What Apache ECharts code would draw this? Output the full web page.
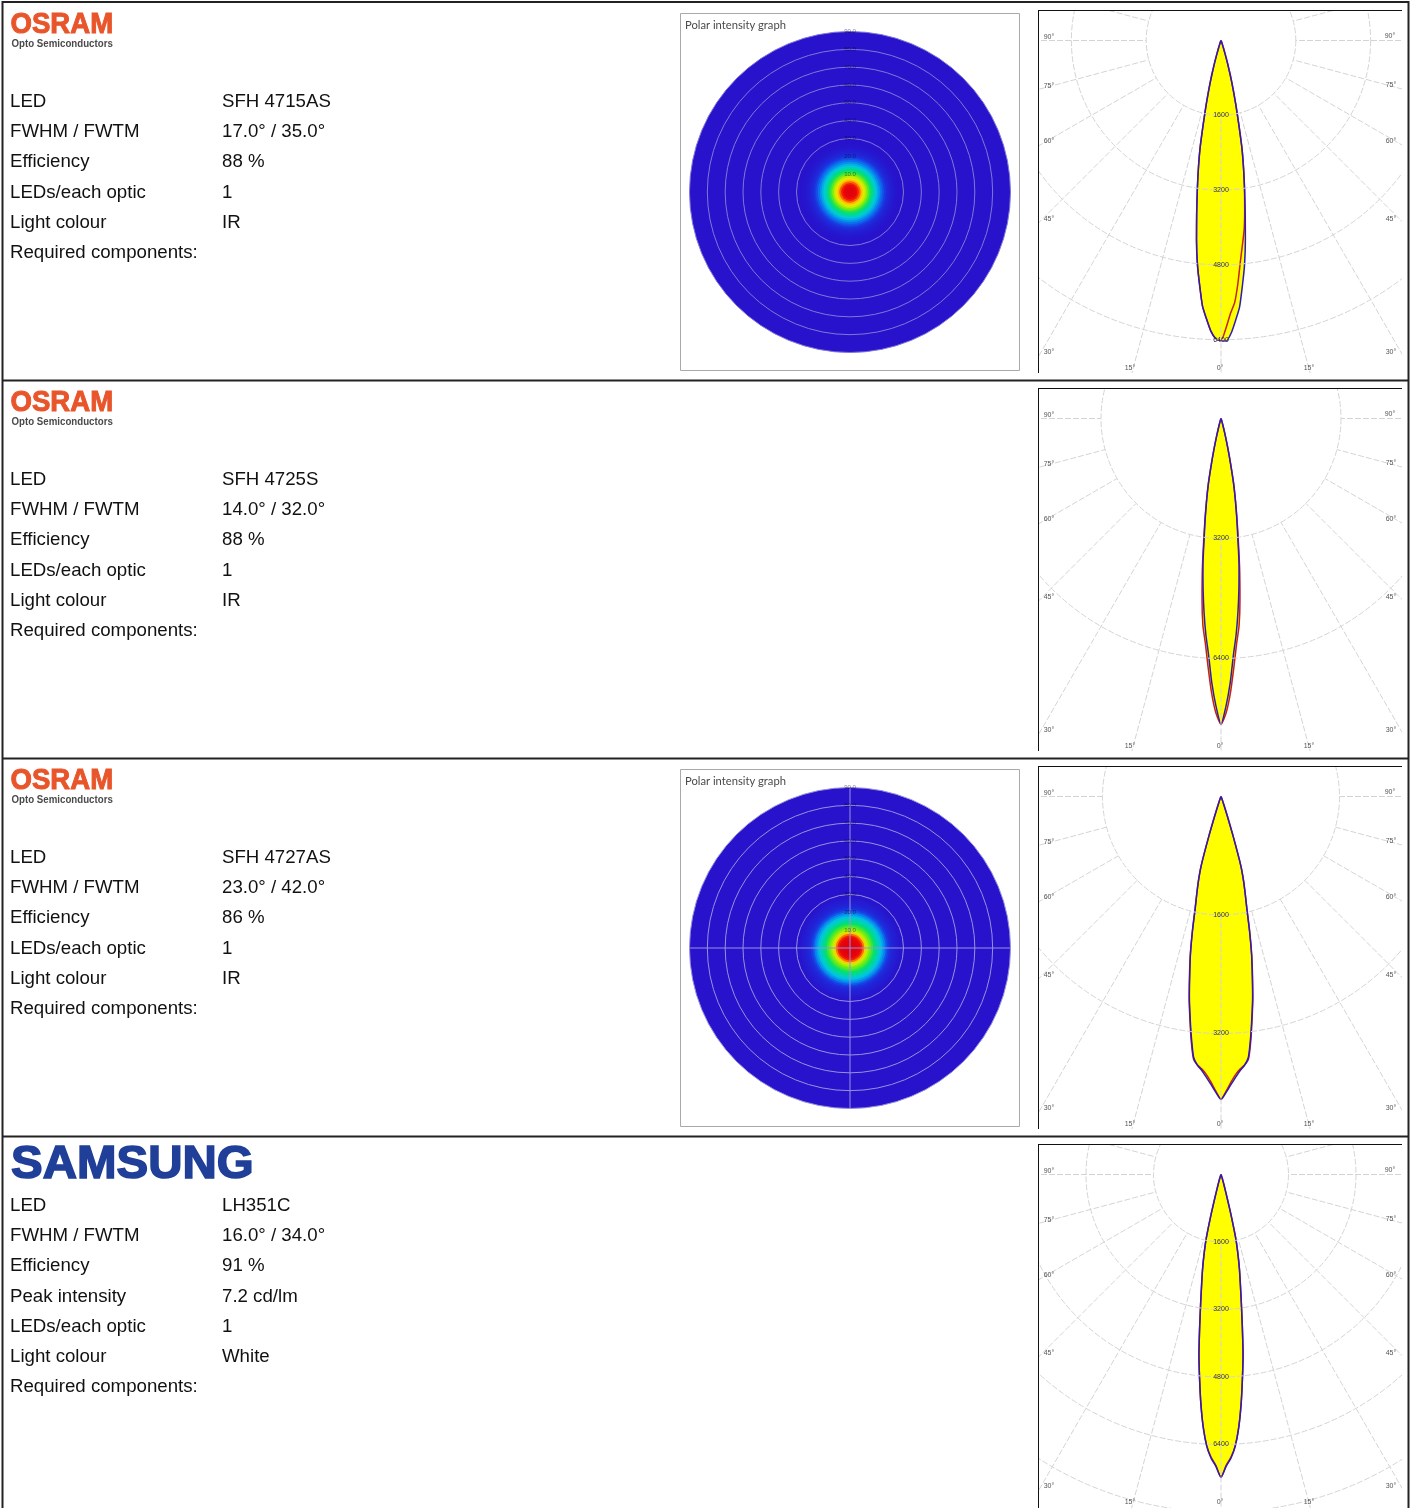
<!DOCTYPE html>
<html>
<head>
<meta charset="utf-8">
<script src="https://cdn.jsdelivr.net/npm/echarts@6/dist/echarts.min.js"></script>
<style>
html,body{margin:0;padding:0;background:#fff;overflow:hidden}
#base{position:absolute;left:0;top:0;width:1413px;height:1508px}
.lobe{position:absolute;left:1039px;width:363px;filter:blur(0.5px)}
</style>
</head>
<body>
<div id="base"></div>
<div id="lobe0" class="lobe" style="top:11px;height:362px"></div>
<div id="lobe1" class="lobe" style="top:389px;height:362px"></div>
<div id="lobe2" class="lobe" style="top:767px;height:362px"></div>
<div id="lobe3" class="lobe" style="top:1145px;height:363px"></div>
<script>
// ---------- table content ----------
var rowLabels1 = ['LED','FWHM / FWTM','Efficiency','LEDs/each optic','Light colour','Required components:'];
var rowLabels4 = ['LED','FWHM / FWTM','Efficiency','Peak intensity','LEDs/each optic','Light colour','Required components:'];
var rowValues1 = ['SFH 4715AS','17.0° / 35.0°','88 %','1','IR',''];
var rowValues2 = ['SFH 4725S','14.0° / 32.0°','88 %','1','IR',''];
var rowValues3 = ['SFH 4727AS','23.0° / 42.0°','86 %','1','IR',''];
var rowValues4 = ['LH351C','16.0° / 34.0°','91 %','7.2 cd/lm','1','White',''];

// ---------- lobe data: candela per klm against half angle (degrees) ----------
var lobeAngles = [0,1,2,3,4,5,6,7,8,9,10,11,12,13,14,15,16,17,18,19,20,21,23,26,30,40,90];
var lobe1Blue  = [6480,6430,6260,5990,5710,5260,4820,4280,3720,3230,2780,2350,1820,1410,1070,770,510,300,170,105,65,40,20,0,0,0,0];
var lobe1RedR  = [6300,6150,5840,5610,5200,4750,4390,4070,3640,3210,2780,2350,1820,1410,1070,770,510,300,170,105,65,40,20,0,0,0,0];
var lobe1RedL  = [6420,6380,6220,5960,5690,5250,4820,4300,3740,3240,2790,2350,1820,1410,1070,770,510,300,170,105,65,40,20,0,0,0,0];
var lobe2Blue  = [8150,7670,7050,6320,5780,5190,4570,3950,3230,2690,2200,1750,1210,810,485,270,160,110,70,40,25,0,0,0,0,0,0];
var lobe2Red   = [8150,7850,7300,6620,6000,5540,4840,4090,3340,2740,2230,1750,1210,810,485,270,160,110,70,40,25,0,0,0,0,0,0];
var lobe3Blue  = [4090,3995,3890,3795,3710,3645,3540,3280,3000,2730,2430,2160,1850,1550,1350,1175,970,570,270,135,70,40,15,0,0,0,0];
var lobe3Red   = [4090,3980,3860,3760,3690,3640,3560,3310,3020,2750,2450,2170,1860,1550,1350,1175,970,570,270,135,70,40,15,0,0,0,0];
var lobe4Blue  = [7180,6920,6730,6450,6020,5470,4860,4290,3630,3080,2650,2300,1940,1565,950,470,260,165,95,60,35,25,0,0,0,0,0];
var lobe4Red   = [7180,6900,6710,6440,6010,5460,4860,4290,3630,3080,2640,2290,1930,1555,950,470,260,165,95,60,35,25,0,0,0,0,0];
var lobe1Rings = [1600,3200,4800,6400];
var lobe2Rings = [3200,6400];
var lobe3Rings = [1600,3200];
var lobe4Rings = [1600,3200,4800,6400,8000];
var angleTickText = ['90°','75°','60°','45°','30°','15°','0°','15°','30°','45°','60°','75°','90°'];

// ---------- polar intensity graphs: relative intensity against off-axis angle ----------
var discRadii = [0,1,2,3,4,5,6,7,8,9,10,11,12,13,14,15,16,17,18,19,20,21,22,23,24,25,26,27,28,29,30,31,32,90];
var disc1Intensity = [100,100,98,95,90,84,76,68,62,57,52,47,42,38,34,31,27,23,19,15,11,8,6,4,3,2,1,0.5,0,0,0,0,0,0];
var disc3Intensity = [100,100,100,99,97,94,90,84,75,65,57,53,49,45,41,38,35,32,29,25,21,15,11,8,6,4.5,3.5,2.5,1.5,1,0.5,0,0,0];
var discRings = [30,40,50,60,70,80,90];
var discLabels = [10,20,30,40,50,60,70,80,90];
var discColors = ['#2812cc','#1a34e0','#0a78f0','#00c8e0','#00e070','#70ec10','#e8f000','#ffb000','#f83000','#e80808','#e00010'];

// ---------- base page: table, logos, text, disc charts ----------
var base = echarts.init(document.getElementById('base'));
var g = [];
var TXT = '#111';
function text(x, y, s, font, fill, extra, strokeW) {
  var e = {type:'text', x:x, y:y, z:20, silent:true,
    style:{text:s, font:font, fill:fill, verticalAlign:'middle', align:'left'}};
  if (strokeW) { e.style.stroke = fill; e.style.lineWidth = strokeW; }
  for (var k in (extra||{})) e[k] = extra[k];
  g.push(e);
}
function line(x1,y1,x2,y2,c,w) {
  g.push({type:'line', z:19, silent:true, shape:{x1:x1,y1:y1,x2:x2,y2:y2}, style:{stroke:c,lineWidth:w}});
}
var rowTops = [0,378,756,1134];
rowTops.forEach(function(t, i) {
  var panelBottom = i === 3 ? 1508 : t + 373;
  line(1038.5, t + 10, 1038.5, panelBottom, '#111', 1);
  line(1038, t + 10.5, 1402, t + 10.5, '#111', 1);
});
// table rules
line(2,2,1409,2,'#222',2);
line(2.5,1,2.5,1508,'#222',2);
line(1408.5,1,1408.5,1508,'#222',2);
[380.5,758.5,1136.5].forEach(function(y){ line(2,y,1409,y,'#222',2); });

var F = '18.67px "Liberation Sans", Arial, sans-serif';
var rowY = [101.5,131.5,161.5,192.5,222.5,252.5];
[rowValues1,rowValues2,rowValues3].forEach(function(vals, i) {
  var t = rowTops[i];
  text(10.5, t + 25, 'OSRAM', 'bold 29.5px "Liberation Sans", Arial, sans-serif', '#e9552b', {scaleX:0.935}, 1);
  text(11.5, t + 44, 'Opto Semiconductors', 'bold 10px "Liberation Sans", Arial, sans-serif', '#4a4a4a', {scaleX:0.97});
  rowLabels1.forEach(function(s, j) { text(10, t + rowY[j], s, F, TXT); });
  vals.forEach(function(s, j) { if (s) text(222, t + rowY[j], s, F, TXT); });
});
text(11, 1165.5, 'SAMSUNG', 'bold 47px "Liberation Sans", Arial, sans-serif', '#1f3f98', {scaleX:1.01}, 1.6);
var rowY4 = [1205.5,1235.5,1265.5,1296.5,1326.5,1356.5,1386.5];
rowLabels4.forEach(function(s, j) { text(10, rowY4[j], s, F, TXT); });
rowValues4.forEach(function(s, j) { if (s) text(222, rowY4[j], s, F, TXT); });

// disc frames and titles
[13,769].forEach(function(y) {
  g.push({type:'rect', z:1, silent:true, shape:{x:680.5,y:y+0.5,width:339,height:357},
    style:{fill:'#fff',stroke:'#a9a9a9',lineWidth:1}});
  text(685, y + 12, 'Polar intensity graph', '11.2px Lato, sans-serif', '#4a4a4a');
});

function discRenderItem(params, api) {
  var c = params.coordSys;
  var p = api.coord([api.value(0), 0]);
  var r = Math.sqrt((p[0]-c.cx)*(p[0]-c.cx) + (p[1]-c.cy)*(p[1]-c.cy));
  return {type:'sector', shape:{cx:c.cx, cy:c.cy, r0:0, r:r, startAngle:0, endAngle:Math.PI*2},
    style:{fill:api.visual('color')}};
}
function discSeries(idx, intensity) {
  return {type:'custom', coordinateSystem:'polar', polarIndex:idx, z:3, silent:true, animation:false,
    renderItem:discRenderItem, clip:false,
    data: discRadii.map(function(r,i){ return [r, intensity[i]]; }).reverse()};
}
function discRadius(idx, ringColor) {
  return {polarIndex:idx, type:'value', min:0, max:90, z:6,
    axisLine:{show:false},
    axisTick:{show:false, customValues:discRings},
    axisLabel:{show:true, customValues:discLabels, margin:0, align:'center', verticalAlign:'middle', rotate:0,
      fontSize:6, color:'rgba(10,10,30,0.55)', fontFamily:'"Liberation Sans"',
      formatter:function(v){ return v.toFixed(1); }},
    splitLine:{show:true, lineStyle:{color:ringColor, width:1}}};
}
function discAngle(idx, cross, ringColor) {
  return {polarIndex:idx, type:'value', min:0, max:360, interval:90, startAngle:90, z:6,
    axisLine:{show:false}, axisTick:{show:false}, axisLabel:{show:false},
    splitLine:{show:cross, lineStyle:{color:ringColor, width:1}}};
}
base.setOption({
  animation:false,
  backgroundColor:'#fff',
  polar:[{center:[850,192], radius:160.5},{center:[850,948], radius:160.5}],
  angleAxis:[discAngle(0,false,'#7f78d8'), discAngle(1,true,'#9692e0')],
  radiusAxis:[discRadius(0,'#7f78d8'), discRadius(1,'#9692e0')],
  visualMap:{show:false, type:'continuous', min:0, max:100, dimension:1, seriesIndex:[0,1], inRange:{color:discColors}},
  series:[discSeries(0,disc1Intensity), discSeries(1,disc3Intensity)],
  graphic:{elements:g}
});

// ---------- lobe charts ----------
var tickPos = [[10,26],[10,75],[10,130],[10,208],[10,341],[91,357],[181,357],[270,357],[352,341],[352,208],[352,130],[352,74],[351,25]];
function lobePoints(vals, left) {
  var pts = [];
  lobeAngles.forEach(function(a,i){ pts.push([vals[i], left ? -a : a]); });
  return pts;
}
function fullLobe(valsL, valsR) {
  return lobePoints(valsL, true).reverse().concat(lobePoints(valsR, false).slice(1));
}
function lobeChart(id, rings, pxPerUnit, blueL, blueR, redL, redR) {
  var chart = echarts.init(document.getElementById(id));
  var first = rings[0];
  var R = 420;
  var r0 = first * pxPerUnit;
  var gridLine = {show:true, lineStyle:{color:'#d4d4d4', width:1, type:[6,2]}};
  var off = {show:false};
  function s(name, data, fill, stroke, width) {
    return {name:name, type:'line', coordinateSystem:'polar', polarIndex:1, data:data, clip:false, symbol:'none', silent:true,
      smooth:0.2, z:fill?2:3, animation:false,
      lineStyle: stroke ? {color:stroke, width:width} : {width:0, opacity:0},
      areaStyle: fill ? {color:fill, opacity:1, origin:0} : undefined};
  }
  var blue = fullLobe(blueL, blueR), red = fullLobe(redL, redR);
  chart.setOption({
    animation:false,
    polar:[{center:[182,29.5], radius:[r0,R]},{center:[182,29.5], radius:[0,R]}],
    angleAxis:[
      {polarIndex:0, type:'value', min:0, max:360, interval:15, startAngle:270, clockwise:false, z:6,
       axisLine:off, axisTick:off, axisLabel:off, splitLine:gridLine},
      {polarIndex:1, type:'value', min:-180, max:180, interval:15, startAngle:90, clockwise:false,
       axisLine:off, axisTick:off, axisLabel:off, splitLine:off}
    ],
    radiusAxis:[
      {polarIndex:0, type:'value', min:first, max:R/pxPerUnit, z:6,
       axisLine:off,
       axisTick:{show:false, customValues:rings},
       axisLabel:{show:true, customValues:rings, margin:0, align:'center', verticalAlign:'middle', rotate:0,
         fontSize:7, color:'#333', fontFamily:'"Liberation Sans"', formatter:function(v){ return String(v); }},
       splitLine:gridLine},
      {polarIndex:1, type:'value', min:0, max:R/pxPerUnit,
       axisLine:off, axisTick:off, axisLabel:off, splitLine:off}
    ],
    series:[
      s('fill red', red, '#ffff00'),
      s('fill blue', blue, '#ffff00'),
      s('C90', red, null, '#c4201c', 1.5),
      s('C0', blue, null, '#2c1cb4', 1.5)
    ],
    graphic:{elements: angleTickText.map(function(t,i){
      return {type:'text', x:tickPos[i][0], y:tickPos[i][1], silent:true, z:20,
        style:{text:t, font:'7px "Liberation Sans"', fill:'#555', align:'center', verticalAlign:'middle'}};
    })}
  });
}
lobeChart('lobe0', lobe1Rings, 74.8/1600, lobe1RedL, lobe1Blue, lobe1RedL, lobe1RedR);
lobeChart('lobe1', lobe2Rings, 120/3200, lobe2Blue, lobe2Blue, lobe2Red, lobe2Red);
lobeChart('lobe2', lobe3Rings, 118.5/1600, lobe3Blue, lobe3Blue, lobe3Red, lobe3Red);
lobeChart('lobe3', lobe4Rings, 67.5/1600, lobe4Blue, lobe4Blue, lobe4Red, lobe4Red);
</script>
</body>
</html>
